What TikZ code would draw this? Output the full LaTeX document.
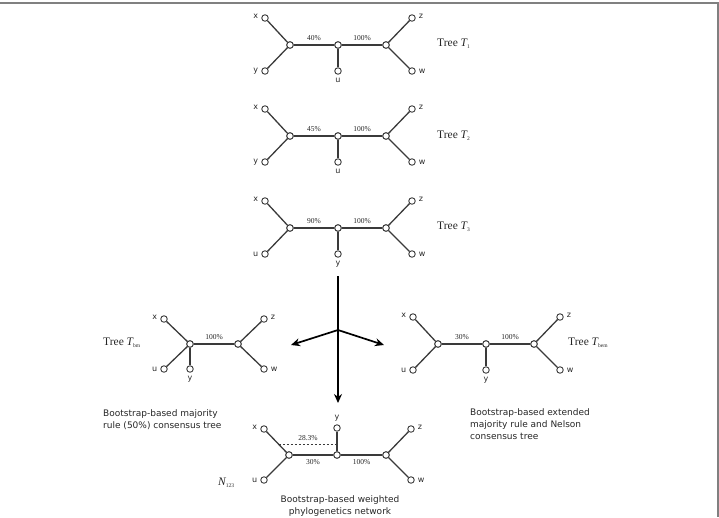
\documentclass[tikz,border=0pt]{standalone}
\usepackage{fontspec}
\setmainfont{Liberation Serif}
\newfontfamily\labfont{DejaVu Sans}
\usetikzlibrary{arrows.meta}
\definecolor{edgec}{HTML}{3A3A3A}
\definecolor{framec}{HTML}{808080}
\newcommand{\tsub}[1]{\raisebox{-2.2pt}{\fontsize{5.5}{6}\selectfont #1}}
\tikzset{
  inode/.style={circle,draw=edgec,fill=white,line width=0.9pt,inner sep=0pt,minimum size=6.5pt},
  leaf/.style={inode},
  edge/.style={draw=edgec,line width=1.3pt},
  lbl/.style={font=\labfont\fontsize{8}{9}\selectfont,text=black!85,inner sep=1pt,label distance=2pt},
  pct/.style={font=\fontsize{7.5}{8}\selectfont,text=black!85,inner sep=1.5pt},
  treelab/.style={font=\fontsize{11.5}{13}\selectfont,text=black!85,anchor=west,inner sep=0pt},
  desc/.style={font=\labfont\fontsize{9}{12}\selectfont,text=black!85,inner sep=0pt},
  arr/.style={draw=black,line width=1.7pt,-{Stealth[length=9pt,width=8pt]}},
  framel/.style={draw=framec,line width=1.2pt}
}
% standard quartet tree: #1 prefix, #2 centre, #3 lower-left label, #4 middle label, #5 left pct, #6 right pct
\newcommand{\qtree}[6]{%
\begin{scope}[shift={#2}]
  \node[inode] (#1l) at (-48,0) {};
  \node[inode] (#1c) at (0,0) {};
  \node[inode] (#1r) at (48,0) {};
  \node[leaf,label={[lbl,yshift=1.5pt]left:x}] (#1x) at (-73,-27) {};
  \node[leaf,label={[lbl]left:#3}] (#1y) at (-73,26) {};
  \node[leaf,label={[lbl,yshift=1.5pt]right:z}] (#1z) at (74,-27) {};
  \node[leaf,label={[lbl]right:w}] (#1w) at (74,26) {};
  \node[leaf,label={[lbl,label distance=2.5pt]below:#4}] (#1m) at (0,26) {};
  \draw[edge] (#1x) -- (#1l) -- (#1y);
  \draw[edge] (#1z) -- (#1r) -- (#1w);
  \draw[edge] (#1l) -- node[pct,above=2pt]{#5} (#1c);
  \draw[edge] (#1c) -- node[pct,above=2pt]{#6} (#1r);
  \draw[edge] (#1c) -- (#1m);
  \node[inode] at (#1l) {};
  \node[inode] at (#1c) {};
  \node[inode] at (#1r) {};
\end{scope}}
\begin{document}
\begin{tikzpicture}[x=1pt,y=-1pt]
\useasboundingbox (0,0) rectangle (719,517);
% frame
\coordinate (f1) at (0,3);
\coordinate (f2) at (718,3);
\coordinate (f3) at (718,517);
\draw[framel] (f1) -- (f2) -- (f3);

% three input trees
\qtree{a}{(338,45)}{y}{u}{40\%}{100\%}
\qtree{b}{(338,136)}{y}{u}{45\%}{100\%}
\qtree{c}{(338,228)}{u}{y}{90\%}{100\%}
\node[treelab] (ta) at (437,44) {Tree {\itshape T}\tsub{1}};
\node[treelab] (tb) at (437,136) {Tree {\itshape T}\tsub{2}};
\node[treelab] (tc) at (437,227) {Tree {\itshape T}\tsub{3}};

% arrows
\coordinate (atop) at (338,276);
\coordinate (ahub) at (338,330);
\coordinate (aleft) at (291,345);
\coordinate (aright) at (384,345);
\coordinate (adown) at (338,403);
\draw[arr] (atop) -- (adown);
\draw[arr] (ahub) -- (aleft);
\draw[arr] (ahub) -- (aright);

% majority rule tree T_bm
\node[inode] (ml) at (190,344) {};
\node[inode] (mr) at (238,344) {};
\node[leaf,label={[lbl,yshift=1.5pt]left:x}] (mx) at (164,319) {};
\node[leaf,label={[lbl]left:u}] (mu) at (164,369) {};
\node[leaf,label={[lbl,label distance=2.5pt]below:y}] (my) at (190,369) {};
\node[leaf,label={[lbl,yshift=1.5pt]right:z}] (mz) at (264,319) {};
\node[leaf,label={[lbl]right:w}] (mw) at (264,369) {};
\draw[edge] (mx) -- (ml) -- (mu);
\draw[edge] (ml) -- (my);
\draw[edge] (ml) -- node[pct,above=2pt]{100\%} (mr);
\draw[edge] (mz) -- (mr) -- (mw);
\node[inode] at (ml) {};
\node[inode] at (mr) {};
\node[treelab] (tm) at (103,343) {Tree {\itshape T}\tsub{bm}};

% extended majority rule tree T_bem
\qtree{e}{(486,344)}{u}{y}{30\%}{100\%}
\node[treelab] (te) at (568,343) {Tree {\itshape T}\tsub{bem}};

% network N_123
\node[inode] (nl) at (289,455) {};
\node[inode] (nc) at (337,455) {};
\node[inode] (nr) at (386,455) {};
\node[leaf,label={[lbl,yshift=1.5pt]left:x}] (nx) at (264,429) {};
\node[leaf,label={[lbl]left:u}] (nu) at (264,480) {};
\node[leaf,label={[lbl,label distance=2pt]above:y}] (ny) at (337,428) {};
\node[leaf,label={[lbl,yshift=1.5pt]right:z}] (nz) at (411,429) {};
\node[leaf,label={[lbl]right:w}] (nw) at (411,480) {};
\draw[edge] (nx) -- (nl) -- (nu);
\draw[edge] (nz) -- (nr) -- (nw);
\draw[edge] (nl) -- node[pct,below=2pt]{30\%} (nc);
\draw[edge] (nc) -- node[pct,below=2pt]{100\%} (nr);
\draw[edge] (nc) -- (ny);
\path (nx) -- (nl) coordinate[pos=0.62] (d1);
\path (nc) -- (ny) coordinate[pos=0.5] (d2);
\draw[edgec,line width=0.9pt,dashed,dash pattern=on 2.5pt off 1.5pt] (d1) -- node[pct,above=1.5pt]{28.3\%} (d1 -| d2);
\node[inode] at (nl) {};
\node[inode] at (nc) {};
\node[inode] at (nr) {};
\node[treelab] (tn) at (218,483) {{\itshape N}\tsub{123}};

% descriptions
\node[desc,anchor=north west,align=left] (dm) at (103,409) {Bootstrap-based majority\\rule (50\%) consensus tree};
\node[desc,anchor=north west,align=left] (de) at (470,408) {Bootstrap-based extended\\majority rule and Nelson\\consensus tree};
\node[desc,anchor=north,align=center] (dn) at (340,495) {Bootstrap-based weighted\\phylogenetics network};
\end{tikzpicture}
\end{document}
